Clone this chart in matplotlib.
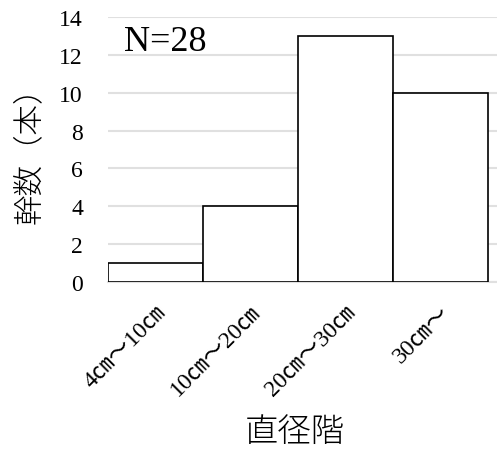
import matplotlib
matplotlib.use('Agg')
import matplotlib.pyplot as plt

plt.rcParams['font.family'] = ['Liberation Serif', 'Noto Sans CJK JP', 'DejaVu Sans']

categories = ['4㎝～10㎝', '10㎝～20㎝', '20㎝～30㎝', '30㎝～']
counts = [1, 4, 13, 10]
yticks = [0, 2, 4, 6, 8, 10, 12, 14]

fig = plt.figure(figsize=(4.97, 4.52), dpi=100)
ax = fig.add_axes([108 / 497, 1 - 283 / 452, (497 - 108) / 497, (283 - 18) / 452])

x = range(len(categories))
ax.bar(x, counts, width=1.0, color='white', edgecolor='black', linewidth=1.2, zorder=3)

ax.set_ylim(0, 14)
ax.set_xlim(-0.5, 3.6)
ax.set_yticks(yticks)
ax.yaxis.grid(True, color='#e0e0e0', linewidth=1.5, zorder=0)
ax.set_axisbelow(True)
for s in ['top', 'right', 'left']:
    ax.spines[s].set_visible(False)
ax.spines['bottom'].set_color('#e0e0e0')
ax.spines['bottom'].set_linewidth(1.5)
ax.tick_params(axis='both', length=0)
ax.tick_params(axis='y', pad=18, labelsize=17)

ax.set_xticks(list(x))
ax.set_xticklabels(categories, rotation=45, ha='right', rotation_mode='anchor', fontsize=17)
ax.tick_params(axis='x', pad=14)

ax.text(0.04, 0.97, 'N=28', transform=ax.transAxes, fontsize=26, va='top', ha='left')

fig.text(29 / 497, 1 - 148 / 452, '幹数（本）', rotation=90, fontsize=22, ha='center', va='center',
         family=['Noto Sans CJK JP', 'DejaVu Sans'], fontweight='light')
fig.text(295 / 497, 1 - 433 / 452, '直径階', fontsize=24, ha='center', va='center',
         family=['Noto Sans CJK JP', 'DejaVu Sans'], fontweight='light')

fig.savefig('out.png', dpi=100)
